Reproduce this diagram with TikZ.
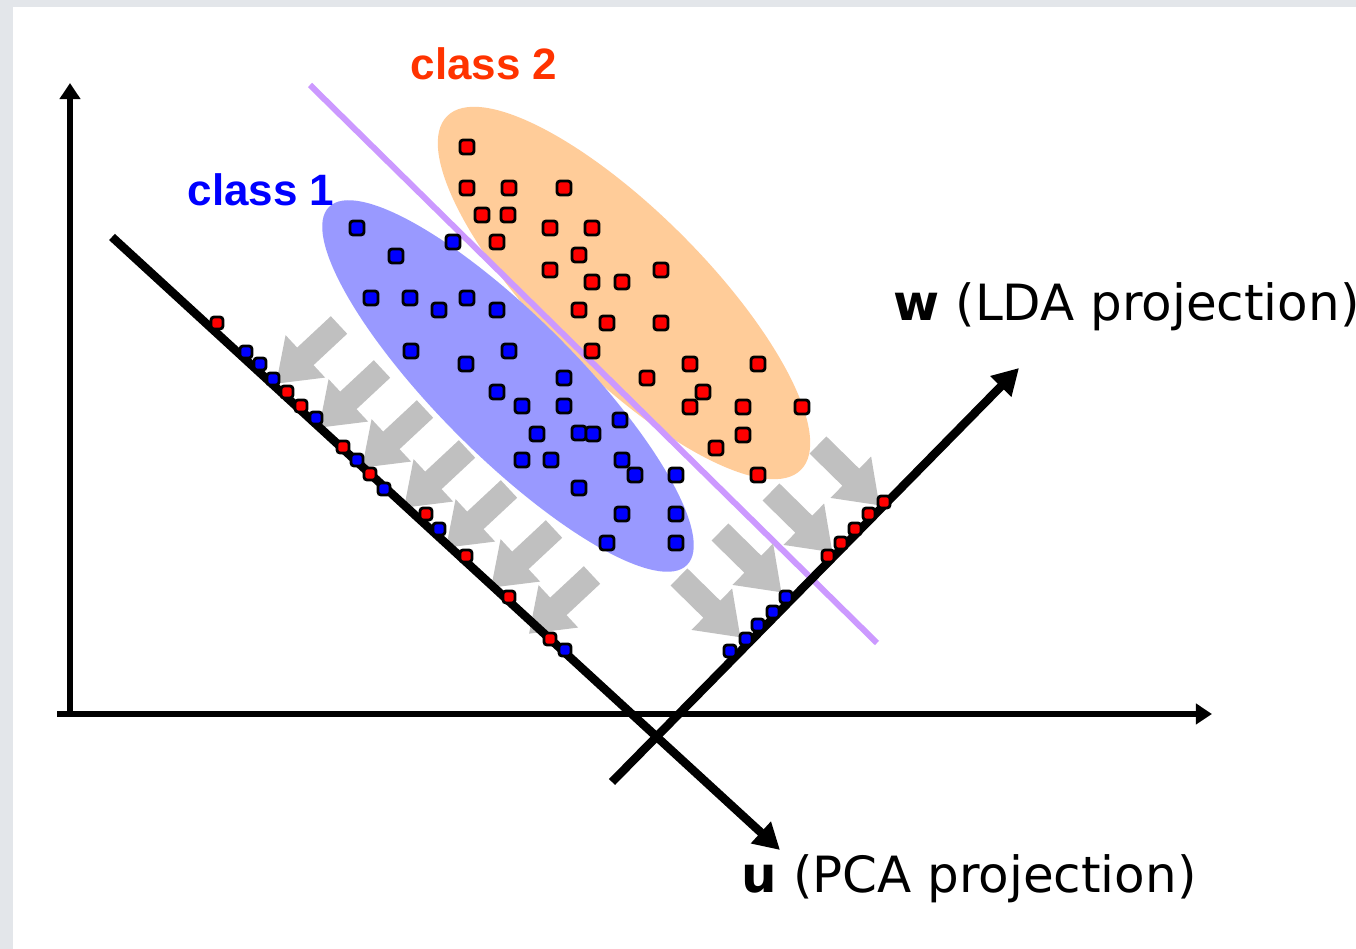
\documentclass[tikz,border=0pt]{standalone}
\usepackage{fontspec}
\setmainfont{DejaVu Sans}
\newfontfamily\classfont{Liberation Sans}
\usetikzlibrary{arrows.meta}
\definecolor{framegray}{HTML}{E3E6EA}
\definecolor{orangefill}{HTML}{FFCC99}
\definecolor{bluefill}{HTML}{9999FF}
\definecolor{purpline}{HTML}{CC99FF}
\definecolor{arrowgray}{HTML}{C0C0C0}
\definecolor{classred}{RGB}{255,51,0}
\tikzset{
  axisline/.style={line width=0.06cm, -{Triangle[width=0.2cm,length=0.16cm]}},
  projline/.style={line width=0.085cm, -{Triangle[width=0.28cm,length=0.26cm]}},
  rdot/.style={rectangle, rounded corners=0.03cm, draw=black, fill=red, line width=0.028cm, minimum size=0.14cm, inner sep=0pt},
  bdot/.style={rectangle, rounded corners=0.03cm, draw=black, fill=blue, line width=0.028cm, minimum size=0.14cm, inner sep=0pt},
  classlabel/.style={font=\classfont\bfseries\fontsize{12.5pt}{14pt}\selectfont, inner sep=0pt},
  projlabel/.style={font=\fontsize{14.2pt}{16pt}\selectfont, anchor=base west, inner sep=0pt},
}
\newcommand\grayarrow[2]{\fill[arrowgray,shift={(#1)},rotate=#2] (0,-12)--(46,-12)--(46,-29)--(86,0)--(46,29)--(46,12)--(0,12)--cycle;}
\begin{document}
\begin{tikzpicture}[x=0.01cm,y=-0.01cm]
\fill[framegray] (0,0) rectangle (1356,949);
\fill[white] (13,7) rectangle (1356,949);
\useasboundingbox (0,0) rectangle (1356,949);

% class ellipses
\fill[orangefill, rotate around={-45:(624,293)}] (624,293) ellipse [x radius=2.5cm, y radius=0.82cm];
\fill[bluefill, rotate around={-45:(508,386)}] (508,386) ellipse [x radius=2.53cm, y radius=0.70cm];

% separating line
\coordinate (s1) at (310,85);
\coordinate (s2) at (877,643);
\draw[purpline, line width=0.06cm] (s1) -- (s2);

% gray projection arrows (PCA side)
\foreach \x/\y in {339/325,382/369,425/409,467/449,509/489,554/529,592/575}{
  \coordinate (pa) at (\x,\y);
  \grayarrow{pa}{223}
}
% gray projection arrows (LDA side)
\foreach \x/\y in {818/445,771/492,720/532,679/577}{
  \coordinate (la) at (\x,\y);
  \grayarrow{la}{-44.5}
}

% axes
\coordinate (ybot) at (70,717);
\coordinate (ytop) at (70,83);
\coordinate (xl) at (57,714);
\coordinate (xr) at (1212,714);
\draw[axisline] (ybot) -- (ytop);
\draw[axisline] (xl) -- (xr);

% projection directions
\coordinate (u0) at (112,237);
\coordinate (u1) at (780,850);
\coordinate (w0) at (612,782);
\coordinate (w1) at (1019,368);
\draw[projline] (u0) -- (u1);
\draw[projline] (w0) -- (w1);

% class 2 points
\foreach \x/\y [count=\i] in {467/147,467/188,509/188,564/188,482/215,508/215,550/228,592/228,497/242,579/255,550/270,661/270,592/282,622/282,579/310,607/323,661/323,592/351,647/378,690/364,758/364,703/392,690/407,743/407,802/407,743/435,716/448,758/475}
  \node[rdot] (r\i) at (\x,\y) {};
% class 1 points
\foreach \x/\y [count=\i] in {357/228,396/256,453/242,371/298,410/298,439/310,467/298,497/310,411/351,509/351,466/364,564/378,497/392,522/406,564/406,620/420,537/434,579/433,593/434,522/460,551/460,622/460,635/475,676/475,579/488,622/514,676/514,607/543,676/543}
  \node[bdot] (b\i) at (\x,\y) {};

% PCA projected points
\foreach \x/\y [count=\i] in {217/323,287/392,301/406,343/447,370/474,426/514,466/556,509/597,550/639}
  \node[rdot, minimum size=0.12cm] (pr\i) at (\x,\y) {};
\foreach \x/\y [count=\i] in {246/352,260/364,273/379,316/418,357/460,384/489,439/529,565/650}
  \node[bdot, minimum size=0.12cm] (pb\i) at (\x,\y) {};

% LDA projected points
\foreach \x/\y [count=\i] in {884/502,869/514,855/529,841/543,828/556}
  \node[rdot, minimum size=0.12cm] (lr\i) at (\x,\y) {};
\foreach \x/\y [count=\i] in {786/597,773/612,758/625,746/639,730/651}
  \node[bdot, minimum size=0.12cm] (lb\i) at (\x,\y) {};

% labels
\node[classlabel, text=classred] (c2) at (484,64) {class 2};
\node[classlabel, text=blue] (c1) at (261,190) {class 1};
\node[projlabel] (wl) at (893,321) {\textbf{w} (LDA projection)};
\node[projlabel] (ul) at (741,893) {\textbf{u} (PCA projection)};
\end{tikzpicture}
\end{document}
